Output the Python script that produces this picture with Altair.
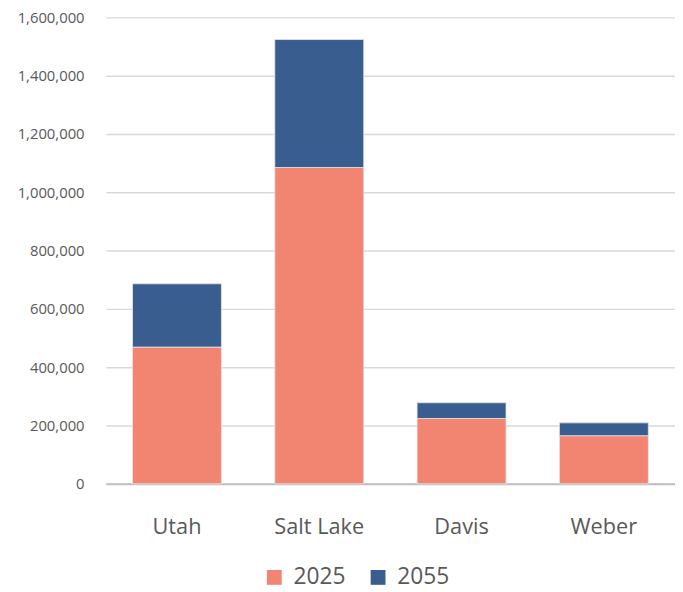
import altair as alt
import pandas as pd

counties = ["Utah", "Salt Lake", "Davis", "Weber"]
series = ["2025", "2055"]
pop_2025 = [469000, 1085000, 224000, 165000]
growth_2055 = [217000, 439000, 54000, 44000]
colors = ["#F28572", "#395D8F"]
y_ticks = [0, 200000, 400000, 600000, 800000, 1000000, 1200000, 1400000, 1600000]

rows = []
for c, a, b in zip(counties, pop_2025, growth_2055):
    rows.append({"County": c, "Series": "2025", "Value": a, "ord": 0})
    rows.append({"County": c, "Series": "2055", "Value": b, "ord": 1})
df = pd.DataFrame(rows)

FONT = "Open Sans"

chart = alt.Chart(df).mark_bar(stroke="#e6e6e6", strokeWidth=0.8).encode(
    x=alt.X("County:N", sort=counties, title=None,
            scale=alt.Scale(paddingInner=0.375, paddingOuter=0.1875),
            axis=alt.Axis(labelAngle=0, labelFontSize=22, labelColor="#595959",
                          labelFont=FONT, ticks=False, domainColor="#bfbfbf",
                          domainWidth=2, labelPadding=33)),
    y=alt.Y("Value:Q", title=None, stack="zero",
            scale=alt.Scale(domain=[0, 1600000]),
            axis=alt.Axis(values=y_ticks, format=",.0f",
                          labelFontSize=15, labelColor="#595959", labelFont=FONT,
                          ticks=False, domain=False, gridColor="#d9d9d9",
                          gridWidth=1.5, labelPadding=22)),
    color=alt.Color("Series:N", sort=series,
                    scale=alt.Scale(domain=series, range=colors),
                    legend=alt.Legend(title=None, orient="none", direction="horizontal",
                                      legendX=159, legendY=555,
                                      labelFontSize=23, labelColor="#595959", labelFont=FONT,
                                      symbolType="square", symbolSize=225,
                                      symbolStrokeWidth=0, columnPadding=21,
                                      labelOffset=8)),
    order=alt.Order("ord:Q", sort="ascending"),
).properties(
    width=576, height=472,
    autosize=alt.AutoSizeParams(type="none"),
    padding={"left": 99, "top": 6, "right": 0, "bottom": 104},
).configure_view(stroke=None)

chart.save("out.html", embed_options={"renderer": "svg", "actions": False})
